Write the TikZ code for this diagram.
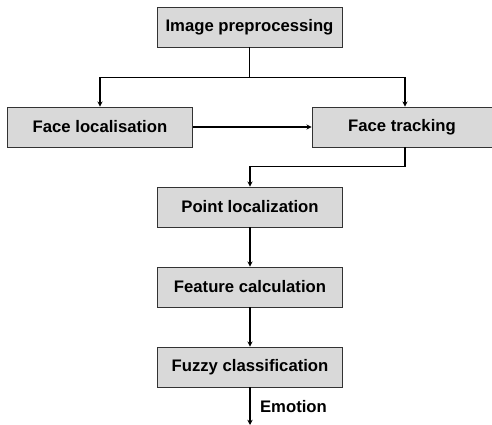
\documentclass[tikz,border=0pt]{standalone}
\usepackage{fontspec}
\setmainfont{Liberation Sans}
\usetikzlibrary{arrows.meta}
\begin{document}
\begin{tikzpicture}[
		stage/.style={draw=black!80,fill=black!15,minimum width=3.7cm,minimum height=0.8cm,inner sep=0pt,font=\fontsize{9.5}{11}\selectfont\bfseries},
		flow/.style={line width=0.8pt,-{Stealth[length=3pt,width=3pt]}}
	]
	\useasboundingbox (0,0)rectangle(9.84,-8.5);
	\node [stage] (pre) at (4.99,-0.54) {Image preprocessing};
	\node [stage] (loc) at (2.0,-2.54) {Face localisation};
	\node [stage,minimum width=3.6cm] (track) at (8.04,-2.54) {Face tracking};
	\node [stage] (point) at (5.0,-4.14) {Point localization};
	\node [stage] (feat) at (5.0,-5.74) {Feature calculation};
	\node [stage] (fuzzy) at (5.0,-7.34) {Fuzzy classification};
	\coordinate (out) at (5.0,-8.5);
	%branches
	\draw [flow] (pre.south)--++(0,-0.6)-|(loc.north);
	\draw [flow] (pre.south)--++(0,-0.6)-|([xshift=0.06cm]track.north);
	\draw [flow] (loc)--(track);
	\draw [flow] ([xshift=0.06cm]track.south)--++(0,-0.38)-|(point.north);
	\draw [flow] (point)--(feat);
	\draw [flow] (feat)--(fuzzy);
	\draw [flow] (fuzzy)--(out)
		node[pos=0.5,right,xshift=2pt,font=\fontsize{9.5}{11}\selectfont\bfseries] {Emotion};
\end{tikzpicture}
\end{document}
